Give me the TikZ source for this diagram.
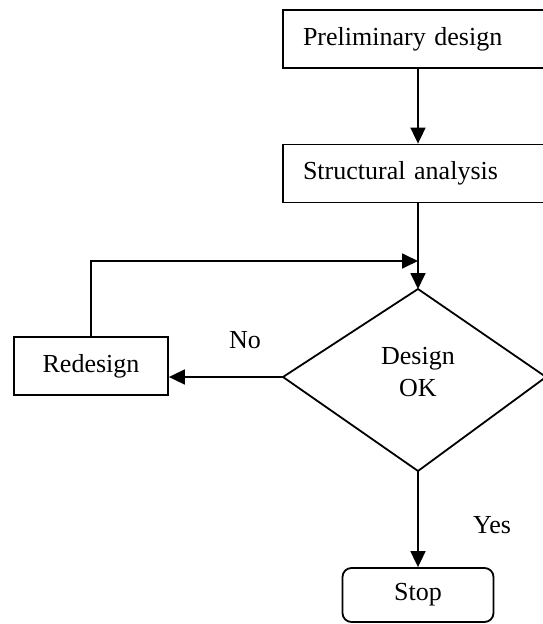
\documentclass[tikz,border=0pt]{standalone}
\usepackage{fontspec}
\setmainfont{Liberation Serif}
\usetikzlibrary{arrows.meta}
\begin{document}
\begin{tikzpicture}[x=1pt,y=-1pt,
  line width=1.8pt,
  font=\fontsize{26}{32}\selectfont,
  arr/.style={-{Triangle[length=16pt,width=15pt]}},
  boxl/.style={draw, rectangle, minimum width=#1, minimum height=58pt, inner xsep=20pt, text width=#1-40pt, align=left},
  boxc/.style={draw, rectangle, minimum width=154pt, minimum height=58pt, inner sep=0pt},
  stopbox/.style={draw, rectangle, rounded corners=9pt, minimum width=151pt, minimum height=54pt, inner sep=0pt},
  lbl/.style={inner sep=0pt}]
\useasboundingbox (0,0) rectangle (543,624);
\coordinate (ax) at (418,0);
\node[boxl=280pt] (pd) at (423,39) {Preliminary design};
\node[boxl=280pt] (sa) at (423,173.5) {Structural analysis};
\coordinate (dt) at (418,289);
\coordinate (dl) at (283,377);
\coordinate (dr) at (546,377);
\coordinate (db) at (418,471);
\draw (dt) -- (dr) -- (db) -- (dl) -- cycle;
\node[lbl, align=center] (dtext) at (418,372) {Design\\OK};
\node[boxc] (rd) at (91,366) {Redesign};
\node[stopbox] (st) at (418,595) {Stop};
\node[lbl] (no) at (245,340) {No};
\node[lbl] (yes) at (492,525) {Yes};
\coordinate (lp) at (91,261);
\draw[arr] (pd.south -| ax) -- (sa.north -| ax);
\draw[arr] (sa.south -| ax) -- (dt);
\draw[arr] (dl) -- (dl -| rd.east);
\draw[arr] (rd.north) -- (lp) -- (lp -| ax);
\draw[arr] (db) -- (st.north);
\end{tikzpicture}
\end{document}
